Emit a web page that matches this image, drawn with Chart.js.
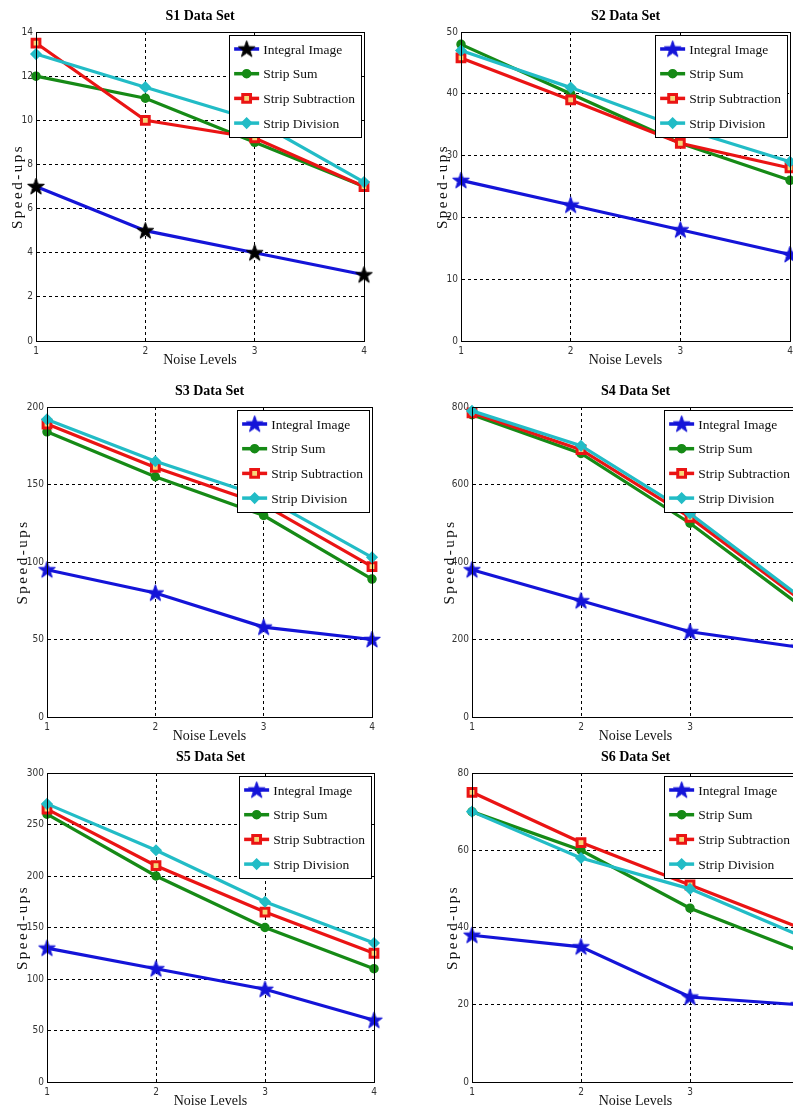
<!DOCTYPE html>
<html>
<head>
<meta charset="utf-8">
<script src="https://cdn.jsdelivr.net/npm/chart.js@4"></script>
<style>
  html, body { margin: 0; padding: 0; background: #fff; }
  body { width: 793px; height: 1113px; overflow: hidden; position: relative; }
  canvas { position: absolute; }
</style>
</head>
<body>
<script>
// data
var noiseLevels = ['1', '2', '3', '4'];
var seriesNames = ['Integral Image', 'Strip Sum', 'Strip Subtraction', 'Strip Division'];

var s1Integral = [7, 5, 4, 3];
var s1Sum = [12, 11, 9, 7];
var s1Sub = [13.5, 10, 9.2, 7];
var s1Div = [13, 11.5, 10, 7.2];

var s2Integral = [26, 22, 18, 14];
var s2Sum = [48, 40, 32, 26];
var s2Sub = [45.8, 39, 32, 28];
var s2Div = [47, 41, 34.5, 29];

var s3Integral = [95, 80, 58, 50];
var s3Sum = [184, 155, 130, 89];
var s3Sub = [189, 161, 137, 97];
var s3Div = [192, 165, 142, 103];

var s4Integral = [380, 300, 220, 180];
var s4Sum = [780, 680, 500, 290];
var s4Sub = [785, 690, 515, 305];
var s4Div = [790, 700, 525, 312];

var s5Integral = [130, 110, 90, 60];
var s5Sum = [260, 200, 150, 110];
var s5Sub = [265, 210, 165, 125];
var s5Div = [270, 225, 175, 135];

var s6Integral = [38, 35, 22, 20];
var s6Sum = [70, 60, 45, 34];
var s6Sub = [75, 62, 51, 40];
var s6Div = [70, 58, 50, 38];

var yMax = [14, 50, 200, 800, 300, 80];
var yStep = [2, 10, 50, 200, 50, 20];

// layout of each panel (plot rectangle on the page)
var panels = [
  { title: 'S1 Data Set', data: [s1Integral, s1Sum, s1Sub, s1Div], L: 36, T: 32, R: 366, B: 341, yGap: 18, star: '#000000' },
  { title: 'S2 Data Set', data: [s2Integral, s2Sum, s2Sub, s2Div], L: 461, T: 32, R: 792, B: 341, yGap: 18, star: '#1414d8' },
  { title: 'S3 Data Set', data: [s3Integral, s3Sum, s3Sub, s3Div], L: 47, T: 407, R: 374, B: 717, yGap: 24, star: '#1414d8' },
  { title: 'S4 Data Set', data: [s4Integral, s4Sum, s4Sub, s4Div], L: 472, T: 407, R: 801, B: 717, yGap: 22, star: '#1414d8' },
  { title: 'S5 Data Set', data: [s5Integral, s5Sum, s5Sub, s5Div], L: 47, T: 773, R: 376, B: 1082, yGap: 24, star: '#1414d8' },
  { title: 'S6 Data Set', data: [s6Integral, s6Sum, s6Sub, s6Div], L: 472, T: 773, R: 801, B: 1082, yGap: 19, star: '#1414d8' }
];

var lineColors = ['#1414d8', '#168a16', '#ea1414', '#22bcc6'];
var serif = '"Liberation Serif", "Times New Roman", serif';
var tickFont = '"Liberation Sans Narrow", "DejaVu Sans Condensed", "Liberation Sans", sans-serif';

var Y_AXIS_W = 34, TOP_PAD = 32, X_AXIS_H = 28, RIGHT_PAD = 8;

// filled five point star used as marker
function makeStar(color) {
  var c = document.createElement('canvas');
  c.width = 19; c.height = 19;
  var g = c.getContext('2d');
  g.beginPath();
  for (var i = 0; i < 10; i++) {
    var r = i % 2 === 0 ? 8.8 : 3.5;
    var a = -Math.PI / 2 + i * Math.PI / 5;
    var px = 9.5 + r * Math.cos(a), py = 10 + r * Math.sin(a);
    if (i === 0) g.moveTo(px, py); else g.lineTo(px, py);
  }
  g.closePath();
  g.fillStyle = color;
  g.fill();
  g.lineWidth = 1;
  g.strokeStyle = color;
  g.stroke();
  return c;
}

function markerStyles(starColor) {
  return [
    { pointStyle: makeStar(starColor), radius: 9, bg: starColor, border: starColor, bw: 1 },
    { pointStyle: 'circle', radius: 4, bg: lineColors[1], border: lineColors[1], bw: 1.5 },
    { pointStyle: 'rect', radius: 5.5, bg: '#f6d77a', border: lineColors[2], bw: 3 },
    { pointStyle: 'rectRot', radius: 5, bg: lineColors[3], border: lineColors[3], bw: 1.5 }
  ];
}

// title, y title, box and legend drawn over the chart
var decorPlugin = {
  id: 'decor',
  afterDraw: function (chart) {
    var ctx = chart.ctx, a = chart.chartArea;
    var p = chart.options.plugins.decor;
    ctx.save();
    // axes box
    ctx.strokeStyle = '#000';
    ctx.lineWidth = 1;
    ctx.setLineDash([]);
    ctx.strokeRect(Math.round(a.left) + 0.5, Math.round(a.top) + 0.5, Math.round(a.right - a.left), Math.round(a.bottom - a.top));

    // title
    ctx.fillStyle = '#000';
    ctx.font = 'bold 14px ' + serif;
    ctx.textAlign = 'center';
    ctx.textBaseline = 'middle';
    ctx.fillText(p.title, (a.left + a.right) / 2, a.top - 16);

    // y title, letter spaced
    ctx.save();
    ctx.translate(a.left - p.yGap, (a.top + a.bottom) / 2);
    ctx.rotate(-Math.PI / 2);
    ctx.font = '15px ' + serif;
    ctx.letterSpacing = '2.5px';
    ctx.fillStyle = '#111';
    ctx.fillText('Speed-ups', 0, 0);
    ctx.restore();

    // legend
    ctx.font = '13.5px ' + serif;
    var tw = 0;
    seriesNames.forEach(function (n) { tw = Math.max(tw, ctx.measureText(n).width); });
    var w = 5 + 25 + 4 + tw + 6, h = 102;
    var bx = a.right - 3 - w, by = a.top + 3;
    ctx.fillStyle = '#fff';
    ctx.fillRect(bx, by, w, h);
    ctx.strokeStyle = '#000';
    ctx.lineWidth = 1;
    ctx.strokeRect(Math.round(bx) + 0.5, Math.round(by) + 0.5, Math.round(w), h);
    var marks = p.marks;
    for (var i = 0; i < seriesNames.length; i++) {
      var ry = by + 14 + i * 24.7;
      ctx.strokeStyle = lineColors[i];
      ctx.lineWidth = 3.5;
      ctx.beginPath();
      ctx.moveTo(bx + 5, ry);
      ctx.lineTo(bx + 30, ry);
      ctx.stroke();
      ctx.fillStyle = marks[i].bg;
      ctx.strokeStyle = marks[i].border;
      ctx.lineWidth = marks[i].bw;
      Chart.helpers.drawPoint(ctx, { pointStyle: marks[i].pointStyle, radius: marks[i].radius, rotation: 0, borderWidth: marks[i].bw }, bx + 17.5, ry);
      ctx.fillStyle = '#111';
      ctx.textAlign = 'left';
      ctx.textBaseline = 'middle';
      ctx.fillText(seriesNames[i], bx + 34, ry + 1);
    }
    ctx.restore();
  }
};

panels.forEach(function (p, k) {
  var canvas = document.createElement('canvas');
  var cw = Y_AXIS_W + (p.R - p.L) + RIGHT_PAD;
  var ch = TOP_PAD + (p.B - p.T) + X_AXIS_H;
  canvas.width = cw;
  canvas.height = ch;
  canvas.style.left = (p.L - Y_AXIS_W) + 'px';
  canvas.style.top = (p.T - TOP_PAD) + 'px';
  canvas.style.width = cw + 'px';
  canvas.style.height = ch + 'px';
  document.body.appendChild(canvas);

  var marks = markerStyles(p.star);
  var datasets = seriesNames.map(function (name, i) {
    return {
      label: name,
      data: p.data[i],
      borderColor: lineColors[i],
      backgroundColor: marks[i].bg,
      borderWidth: 3.2,
      tension: 0,
      pointStyle: marks[i].pointStyle,
      pointRadius: marks[i].radius,
      pointBackgroundColor: marks[i].bg,
      pointBorderColor: marks[i].border,
      pointBorderWidth: marks[i].bw,
      order: 3 - i
    };
  });

  new Chart(canvas.getContext('2d'), {
    type: 'line',
    data: { labels: noiseLevels, datasets: datasets },
    options: {
      responsive: false,
      animation: false,
      clip: false,
      layout: { padding: { top: TOP_PAD, right: RIGHT_PAD, left: 0, bottom: 0 } },
      plugins: {
        legend: { display: false },
        tooltip: { enabled: false },
        decor: { title: p.title, yGap: p.yGap, marks: marks }
      },
      scales: {
        x: {
          type: 'category',
          offset: false,
          grid: { color: '#000', lineWidth: 1, drawTicks: false },
          border: { display: true, color: '#000', dash: [3, 3] },
          ticks: { font: { family: tickFont, size: 10 }, color: '#333', padding: 4, maxRotation: 0 },
          title: { display: true, text: 'Noise Levels', font: { family: serif, size: 14 }, color: '#111', padding: 0 },
          afterFit: function (s) { s.height = X_AXIS_H; }
        },
        y: {
          min: 0,
          max: yMax[k],
          grid: { color: '#000', lineWidth: 1, drawTicks: false },
          border: { display: true, color: '#000', dash: [3, 3] },
          ticks: { stepSize: yStep[k], font: { family: tickFont, size: 10 }, color: '#333', padding: 3 },
          afterFit: function (s) { s.width = Y_AXIS_W; }
        }
      }
    },
    plugins: [decorPlugin]
  });
});
</script>
</body>
</html>
